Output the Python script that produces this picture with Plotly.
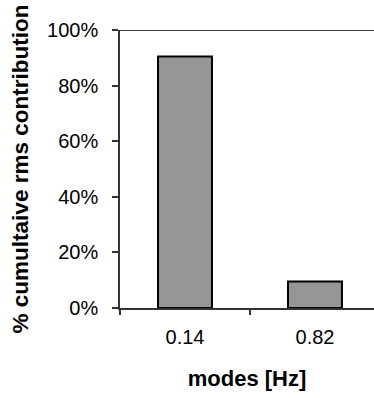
import plotly.graph_objects as go

categories = ["0.14", "0.82"]
values = [90.5, 9.5]
y_ticks = [0, 20, 40, 60, 80, 100]
y_tick_labels = ["0%", "20%", "40%", "60%", "80%", "100%"]

FONT = "Arial, Liberation Sans, sans-serif"

fig = go.Figure(
    go.Bar(
        x=categories,
        y=values,
        width=0.415,
        marker=dict(color="#969696", line=dict(color="#000000", width=2)),
    )
)

fig.update_layout(
    width=374,
    height=398,
    margin=dict(l=120, r=0, t=30, b=90, autoexpand=False),
    paper_bgcolor="white",
    plot_bgcolor="white",
    showlegend=False,
    font=dict(family=FONT, color="#000000"),
)

fig.update_xaxes(
    type="category",
    range=[-0.5, 1.454],
    automargin=False,
    showline=True,
    linecolor="#333333",
    linewidth=1.5,
    ticks="outside",
    tickson="boundaries",
    ticklen=5,
    tickcolor="#333333",
    tickwidth=1.5,
    tickfont=dict(size=20, family=FONT),
    ticklabelstandoff=10,
    showgrid=False,
    zeroline=False,
    title=dict(text="<b>modes [Hz]</b>", font=dict(size=22, family=FONT), standoff=24),
)

fig.update_yaxes(
    range=[0, 100],
    automargin=False,
    tickvals=y_ticks,
    ticktext=y_tick_labels,
    showline=True,
    linecolor="#333333",
    linewidth=1.5,
    ticks="outside",
    ticklen=6,
    tickcolor="#333333",
    tickwidth=1.5,
    tickfont=dict(size=20, family=FONT),
    ticklabelstandoff=10,
    showgrid=False,
    zeroline=False,
    title=dict(text="<b>% cumultaive rms contribution</b>", font=dict(size=22.5, family=FONT), standoff=12),
)

fig.add_shape(
    type="line", xref="paper", yref="y", x0=0, x1=1, y0=100, y1=100,
    line=dict(color="#000000", width=1.5),
)

fig.write_html(
    "out.html",
    config={"displayModeBar": False},
    post_script="document.body.style.margin='0';document.body.style.overflow='hidden';",
)
